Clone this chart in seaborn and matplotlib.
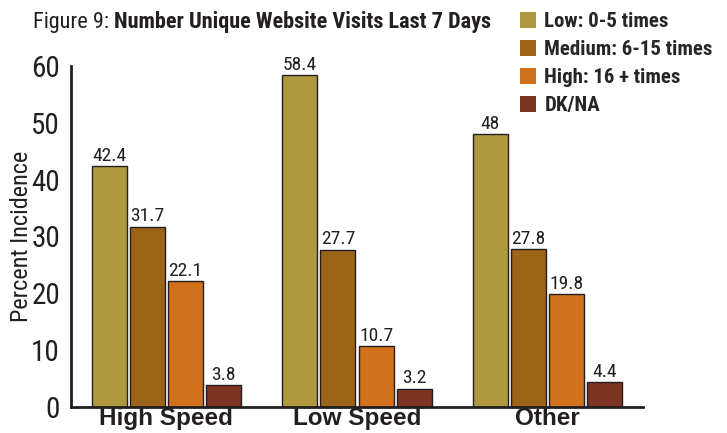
import matplotlib
matplotlib.use("Agg")
import matplotlib.pyplot as plt
from matplotlib.patches import Patch
import pandas as pd
import seaborn as sns

categories = ["High Speed", "Low Speed", "Other"]
series = ["Low: 0-5 times", "Medium: 6-15 times", "High: 16 + times", "DK/NA"]
low_vals = [42.4, 58.4, 48]
medium_vals = [31.7, 27.7, 27.8]
high_vals = [22.1, 10.7, 19.8]
dkna_vals = [3.8, 3.2, 4.4]
colors = ["#B0983F", "#9C6416", "#D2711C", "#7C3420"]
ink = "#231F20"

sns.set_theme(style="white")
plt.rcParams["font.family"] = ["Roboto Condensed", "DejaVu Sans"]

rows = []
for name, vals in zip(series, [low_vals, medium_vals, high_vals, dkna_vals]):
    for cat, v in zip(categories, vals):
        rows.append({"category": cat, "series": name, "value": v})
df = pd.DataFrame(rows)

fig = plt.figure(figsize=(7.27, 4.33), dpi=100)
ax = fig.add_axes([71 / 727, 1 - 407 / 433, (643 - 71) / 727, (407 - 66) / 433])

sns.barplot(
    data=df, x="category", y="value", hue="series",
    order=categories, hue_order=series, palette=colors, saturation=1,
    width=0.8, gap=0.08, edgecolor=ink, linewidth=1.0,
    legend=False, ax=ax,
)

# value labels
for container in ax.containers:
    labels = [f"{v:g}" for v in container.datavalues]
    ax.bar_label(container, labels=labels, padding=1, fontsize=14,
                 color=ink, clip_on=False)

ax.set_xlim(-0.5, 2.5)
ax.set_ylim(0, 60)
ax.set_yticks([0, 10, 20, 30, 40, 50, 60])
ax.tick_params(axis="y", direction="in", length=13, width=1.5,
               labelsize=21, colors=ink, pad=8)
ax.set_xticks([0, 1, 2])
ax.set_xticklabels(categories, fontsize=17.5, fontweight="bold",
                   family=["Liberation Sans", "DejaVu Sans"])
ax.tick_params(axis="x", length=0, pad=0, colors=ink)
ax.set_xticks([0.5, 1.5, 2.5], minor=True)
ax.tick_params(axis="x", which="minor", direction="in", length=7,
               width=1.2, colors=ink)

for side in ["top", "right"]:
    ax.spines[side].set_visible(False)
for side in ["left", "bottom"]:
    ax.spines[side].set_linewidth(2)
    ax.spines[side].set_color(ink)

ax.set_xlabel("")
ax.set_ylabel("Percent Incidence", fontsize=17.5, color=ink)
ax.yaxis.set_label_coords(-0.066, 0.5)

# title with mixed weight
t1 = fig.text(33 / 727, 1 - 28 / 433, "Figure 9: ", fontsize=16,
              color=ink, ha="left", va="baseline")
ax.annotate("Number Unique Website Visits Last 7 Days", xy=(1, 0),
            xycoords=t1, fontsize=16, fontweight="bold", color=ink,
            ha="left", va="bottom", annotation_clip=False)

handles = [Patch(facecolor=c, edgecolor="none") for c in colors]
fig.legend(handles, series, loc="upper left",
           bbox_to_anchor=(512 / 727, 1 - 4 / 433), frameon=False,
           prop={"weight": "bold", "size": 15}, handlelength=0.75,
           handleheight=0.75, handletextpad=0.4, labelspacing=0.43,
           borderaxespad=0)

fig.savefig("out.png", dpi=100)
